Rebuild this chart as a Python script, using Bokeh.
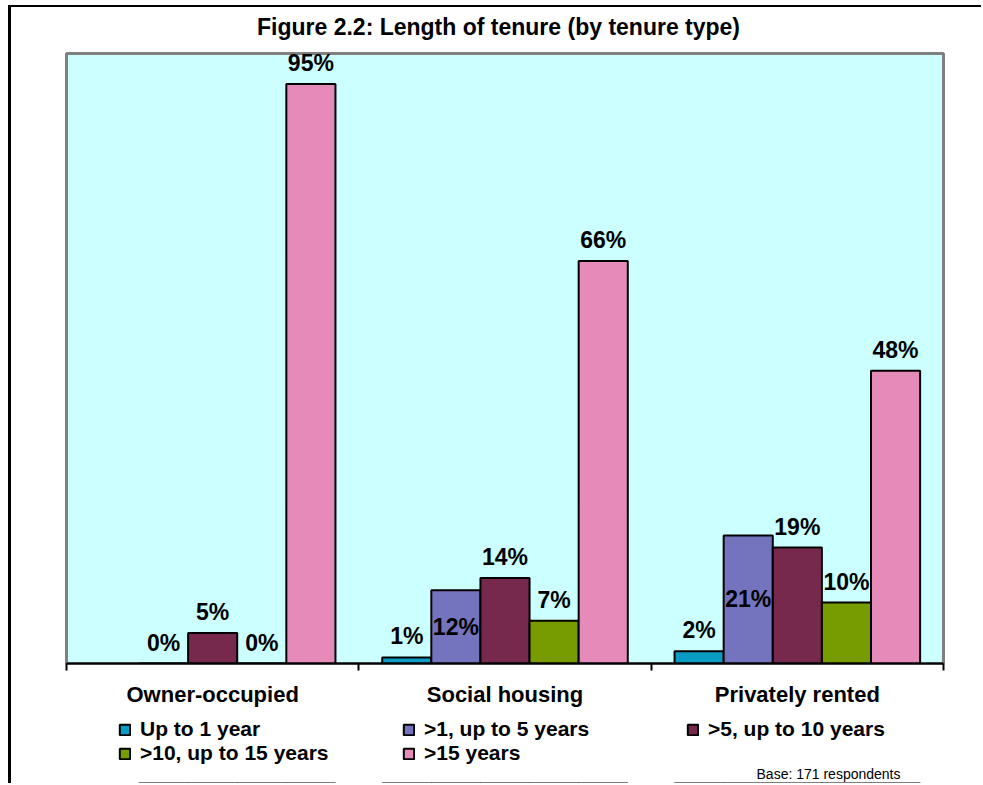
import math
from bokeh.plotting import figure
from bokeh.layouts import column
from bokeh.models import (ColumnDataSource, Range1d, LinearAxis,
                          FixedTicker, Legend, LegendItem, Label)
from bokeh.transform import dodge
from bokeh.core.properties import value
from bokeh.embed import file_html
from bokeh.resources import INLINE

# ---------------- data ----------------
categories = ["Owner-occupied", "Social housing", "Privately rented"]
series_names = ["Up to 1 year", ">1, up to 5 years", ">5, up to 10 years",
                ">10, up to 15 years", ">15 years"]
up_to_1_year = [math.nan, 1, 2]
one_to_5_years = [0, 12, 21]
five_to_10_years = [5, 14, 19]
ten_to_15_years = [0, 7, 10]
over_15_years = [95, 66, 48]
series_values = [up_to_1_year, one_to_5_years, five_to_10_years, ten_to_15_years, over_15_years]
base_note = "Base: 171 respondents"
title_text = "Figure 2.2: Length of tenure (by tenure type)"

# ---------------- style ----------------
FONT = "Liberation Sans"
colors = ["#0A9CC4", "#7474BE", "#76284D", "#769C02", "#E68BB9"]
inside_label = [False, True, False, False, False]   # labels drawn mid-bar
bar_w = 0.168
W = 970

n = len(categories)
centers = [k + 0.5 for k in range(n)]
edges = list(range(n + 1))

# ---- title strip ----
t = figure(x_range=Range1d(0, 1), y_range=Range1d(0, 1), width=W, height=44,
           output_backend="svg", toolbar_location=None,
           x_axis_location=None, y_axis_location=None, min_border=0,
           outline_line_color=None, background_fill_color="white",
           border_fill_color="white")
t.grid.visible = False
t.add_layout(Label(x=432, y=25, x_units="screen", y_units="screen", text=title_text,
                   text_align="center", text_baseline="middle", text_font=FONT,
                   text_font_size="23px", text_font_style="bold", text_color="black"))

# ---- main chart ----
p = figure(x_range=Range1d(0, n), y_range=Range1d(0, 100),
           width=W, height=661,
           output_backend="svg", toolbar_location=None,
           x_axis_location=None, y_axis_location=None,
           min_border_left=55, min_border_right=38,
           min_border_top=2, min_border_bottom=49,
           background_fill_color="#CCFFFF",
           border_fill_color="white")
p.grid.visible = False
p.outline_line_color = "#808080"
p.outline_line_width = 3

# category axis: labels at group centres, tick marks at group edges
cat_axis = LinearAxis(ticker=FixedTicker(ticks=centers, minor_ticks=edges),
                      major_label_overrides={c: name for c, name in zip(centers, categories)},
                      axis_line_color="black", axis_line_width=2,
                      major_tick_line_color=None, major_tick_in=0, major_tick_out=0,
                      minor_tick_line_color="black", minor_tick_line_width=2,
                      minor_tick_in=0, minor_tick_out=7,
                      major_label_text_font=FONT, major_label_text_font_size="22px",
                      major_label_text_font_style="bold", major_label_text_color="black",
                      major_label_standoff=11)
p.add_layout(cat_axis, "below")

# ---- legend strip ----
q = figure(x_range=Range1d(0, n), y_range=Range1d(200, 300), width=W, height=71,
           output_backend="svg", toolbar_location=None,
           x_axis_location=None, y_axis_location=None, min_border=0,
           outline_line_color=None, background_fill_color="white",
           border_fill_color="white")
q.grid.visible = False

items = []
for i, (name, vals) in enumerate(zip(series_names, series_values)):
    off = (i - 2) * bar_w
    src = ColumnDataSource(dict(xc=centers, top=vals))
    p.vbar(x=dodge("xc", off), top="top", bottom=0, width=bar_w,
           source=src, fill_color=colors[i], line_color="black", line_width=2)
    lx, ly, lo, lt = [], [], [], []
    for c, v in zip(centers, vals):
        if isinstance(v, float) and math.isnan(v):
            continue
        lx.append(c)
        lt.append(f"{v}%")
        if inside_label[i] and v > 0:
            ly.append(v / 2); lo.append(0)
        else:
            ly.append(v); lo.append(-21)
    lsrc = ColumnDataSource(dict(xc=lx, ly=ly, lo=lo, lt=lt))
    p.text(x=dodge("xc", off), y="ly", y_offset="lo", text="lt",
           source=lsrc, text_font=value(FONT), text_font_size="23px", text_font_style="bold",
           text_color="black", text_align="center", text_baseline="middle")
    # same series in the legend strip (below its visible y-range) to give swatches
    swatch = q.vbar(x=dodge("xc", off), top="top", bottom=0, width=bar_w, source=src,
                    fill_color=colors[i], line_color="black", line_width=2)
    items.append(LegendItem(label=name, renderers=[swatch]))

legend = Legend(items=items, orientation="horizontal", ncols=3,
                location=(52, 18), margin=0, padding=0,
                border_line_color=None, background_fill_alpha=0,
                glyph_width=13, glyph_height=13, label_standoff=9,
                label_width=262, label_height=20, spacing=0,
                label_text_font=FONT, label_text_font_size="21px",
                label_text_font_style="bold", label_text_color="black")
q.add_layout(legend, "center")

q.add_layout(Label(x=834, y=10, x_units="screen", y_units="screen", text=base_note,
                   text_align="right", text_baseline="middle", text_font=FONT,
                   text_font_size="14px", text_color="black"))

layout = column(t, p, q, spacing=0,
                styles={"margin-left": "8px", "margin-top": "5px",
                        "border-left": "3px solid black", "border-top": "2px solid black"})

open("out.html", "w").write(file_html(layout, INLINE))
